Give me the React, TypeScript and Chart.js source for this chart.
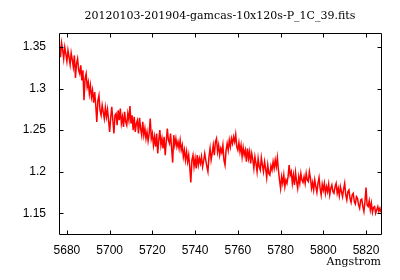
import React, { useEffect, useRef } from "react";
import { Chart, registerables } from "chart.js";

Chart.register(...registerables);

const TITLE = "20120103-201904-gamcas-10x120s-P_1C_39.fits";
const X_LABEL = "Angstrom";

// Wavelength sampling of the spectrum (FITS-style start + step)
const WAVE_START = 5676;
const WAVE_STEP = 0.5;

// Flux values, one per 0.5 Angstrom from 5676 to 5827
const FLUX = [
  1.344, 1.352, 1.338, 1.355, 1.347, 1.336, 1.350, 1.342, 1.333, 1.346,
  1.338, 1.329, 1.343, 1.335, 1.326, 1.340, 1.313, 1.330, 1.336, 1.322,
  1.318, 1.328, 1.310, 1.322, 1.286, 1.312, 1.318, 1.302, 1.308, 1.294,
  1.304, 1.290, 1.298, 1.283, 1.296, 1.280, 1.260, 1.286, 1.292, 1.274,
  1.268, 1.280, 1.272, 1.264, 1.277, 1.266, 1.275, 1.262, 1.248, 1.265,
  1.278, 1.262, 1.246, 1.268, 1.270, 1.256, 1.274, 1.262, 1.276, 1.258,
  1.266, 1.254, 1.272, 1.260, 1.256, 1.270, 1.262, 1.279, 1.258, 1.268,
  1.250, 1.266, 1.248, 1.258, 1.262, 1.246, 1.265, 1.252, 1.244, 1.260,
  1.244, 1.252, 1.240, 1.248, 1.237, 1.246, 1.264, 1.240, 1.246, 1.232,
  1.242, 1.230, 1.246, 1.222, 1.238, 1.250, 1.232, 1.240, 1.228, 1.242,
  1.220, 1.236, 1.252, 1.238, 1.234, 1.246, 1.228, 1.211, 1.244, 1.232,
  1.240, 1.230, 1.236, 1.228, 1.238, 1.226, 1.232, 1.218, 1.226, 1.214,
  1.224, 1.212, 1.220, 1.206, 1.187, 1.214, 1.220, 1.206, 1.216, 1.204,
  1.220, 1.208, 1.216, 1.210, 1.218, 1.206, 1.213, 1.222, 1.214, 1.206,
  1.200, 1.218, 1.228, 1.214, 1.222, 1.232, 1.220, 1.236, 1.240, 1.224,
  1.232, 1.220, 1.228, 1.223, 1.232, 1.214, 1.208, 1.226, 1.234, 1.226,
  1.238, 1.230, 1.240, 1.234, 1.242, 1.236, 1.245, 1.230, 1.226, 1.235,
  1.224, 1.232, 1.218, 1.229, 1.220, 1.226, 1.212, 1.228, 1.216, 1.224,
  1.210, 1.222, 1.215, 1.204, 1.218, 1.210, 1.200, 1.216, 1.206, 1.202,
  1.217, 1.208, 1.200, 1.212, 1.204, 1.193, 1.208, 1.198, 1.196, 1.207,
  1.202, 1.212, 1.204, 1.214, 1.206, 1.217, 1.202, 1.190, 1.180, 1.194,
  1.186, 1.196, 1.182, 1.190, 1.186, 1.194, 1.208, 1.196, 1.200, 1.186,
  1.196, 1.184, 1.199, 1.188, 1.180, 1.194, 1.186, 1.198, 1.190, 1.187,
  1.194, 1.186, 1.198, 1.190, 1.188, 1.200, 1.192, 1.180, 1.187, 1.178,
  1.190, 1.182, 1.175, 1.186, 1.193, 1.180, 1.172, 1.185, 1.178, 1.186,
  1.174, 1.182, 1.176, 1.185, 1.172, 1.180, 1.184, 1.176, 1.174, 1.182,
  1.186, 1.174, 1.180, 1.171, 1.182, 1.176, 1.170, 1.179, 1.186, 1.172,
  1.166, 1.176, 1.178, 1.168, 1.163, 1.172, 1.174, 1.164, 1.161, 1.170,
  1.168, 1.160, 1.156, 1.166, 1.167, 1.158, 1.152, 1.164, 1.181, 1.160,
  1.158, 1.165, 1.154, 1.162, 1.151, 1.157, 1.158, 1.150, 1.154, 1.158,
  1.152, 1.156, 1.151,
];

const X_TICKS = [5680, 5700, 5720, 5740, 5760, 5780, 5800, 5820];
const Y_TICKS = [1.15, 1.2, 1.25, 1.3, 1.35];

const X_MIN = 5676.3;
const X_MAX = 5827;
const Y_MIN = 1.125;
const Y_MAX = 1.367;

const frameTicks = {
  id: "frameTicks",
  afterDraw(chart: any) {
    const { ctx, chartArea } = chart;
    const l = Math.round(chartArea.left) + 0.5;
    const r = Math.round(chartArea.right) + 0.5;
    const t = Math.round(chartArea.top) + 0.5;
    const b = Math.round(chartArea.bottom) + 0.5;
    const len = 4;
    ctx.save();
    ctx.strokeStyle = "#000";
    ctx.lineWidth = 1;
    ctx.beginPath();
    ctx.rect(l, t, r - l, b - t);
    const xs = chart.scales.x;
    const ys = chart.scales.y;
    X_TICKS.forEach((v) => {
      const px = Math.round(xs.getPixelForValue(v)) + 0.5;
      ctx.moveTo(px, b);
      ctx.lineTo(px, b - len);
      ctx.moveTo(px, t);
      ctx.lineTo(px, t + len);
    });
    Y_TICKS.forEach((v) => {
      const py = Math.round(ys.getPixelForValue(v)) + 0.5;
      ctx.moveTo(l, py);
      ctx.lineTo(l + len, py);
      ctx.moveTo(r, py);
      ctx.lineTo(r - len, py);
    });
    ctx.stroke();
    ctx.restore();
  },
};

export default function App() {
  const ref = useRef<HTMLCanvasElement | null>(null);

  useEffect(() => {
    if (!ref.current) return;
    const points = FLUX.map((y, i) => ({ x: WAVE_START + i * WAVE_STEP, y }));
    const tickFont = { family: '"Liberation Sans", Arial, sans-serif', size: 12 };
    const serifFont = { family: '"DejaVu Serif", serif', size: 11, weight: "normal" as const, lineHeight: 1.2 };
    const chart = new Chart(ref.current, {
      type: "line",
      data: {
        datasets: [
          {
            data: points,
            borderColor: "#ff0000",
            borderWidth: 1.5,
            pointRadius: 0,
            tension: 0,
            fill: false,
          },
        ],
      },
      options: {
        animation: false,
        responsive: false,
        maintainAspectRatio: false,
        devicePixelRatio: 1,
        layout: { padding: { top: 0, right: 19, left: 0, bottom: 0 } },
        plugins: {
          legend: { display: false },
          tooltip: { enabled: false },
          title: {
            display: true,
            text: TITLE,
            fullSize: false,
            color: "#000",
            font: serifFont,
            padding: { top: 9.4, bottom: 10.4 },
          },
        },
        scales: {
          x: {
            type: "linear",
            min: X_MIN,
            max: X_MAX,
            afterBuildTicks: (s: any) => {
              s.ticks = X_TICKS.map((v) => ({ value: v }));
            },
            afterFit: (s: any) => {
              s.height = 46;
            },
            grid: { display: false, drawTicks: false },
            border: { display: false },
            ticks: {
              padding: 9,
              color: "#000",
              font: tickFont,
              maxRotation: 0,
              autoSkip: false,
              callback: (v: any) => String(v),
            },
            title: {
              display: true,
              text: X_LABEL,
              align: "end",
              color: "#000",
              font: serifFont,
              padding: { top: 0, bottom: 11 },
            },
          },
          y: {
            type: "linear",
            min: Y_MIN,
            max: Y_MAX,
            afterBuildTicks: (s: any) => {
              s.ticks = Y_TICKS.map((v) => ({ value: v }));
            },
            afterFit: (s: any) => {
              s.width = 59;
            },
            grid: { display: false, drawTicks: false },
            border: { display: false },
            ticks: {
              padding: 13,
              color: "#000",
              font: tickFont,
              callback: (v: any) => String(v),
            },
          },
        },
      },
      plugins: [frameTicks],
    });
    return () => chart.destroy();
  }, []);

  return (
    <div style={{ position: "absolute", left: 0, top: 0, width: 400, height: 280, background: "#fff" }}>
      <canvas ref={ref} width={400} height={280} style={{ display: "block", width: 400, height: 280 }} />
    </div>
  );
}
